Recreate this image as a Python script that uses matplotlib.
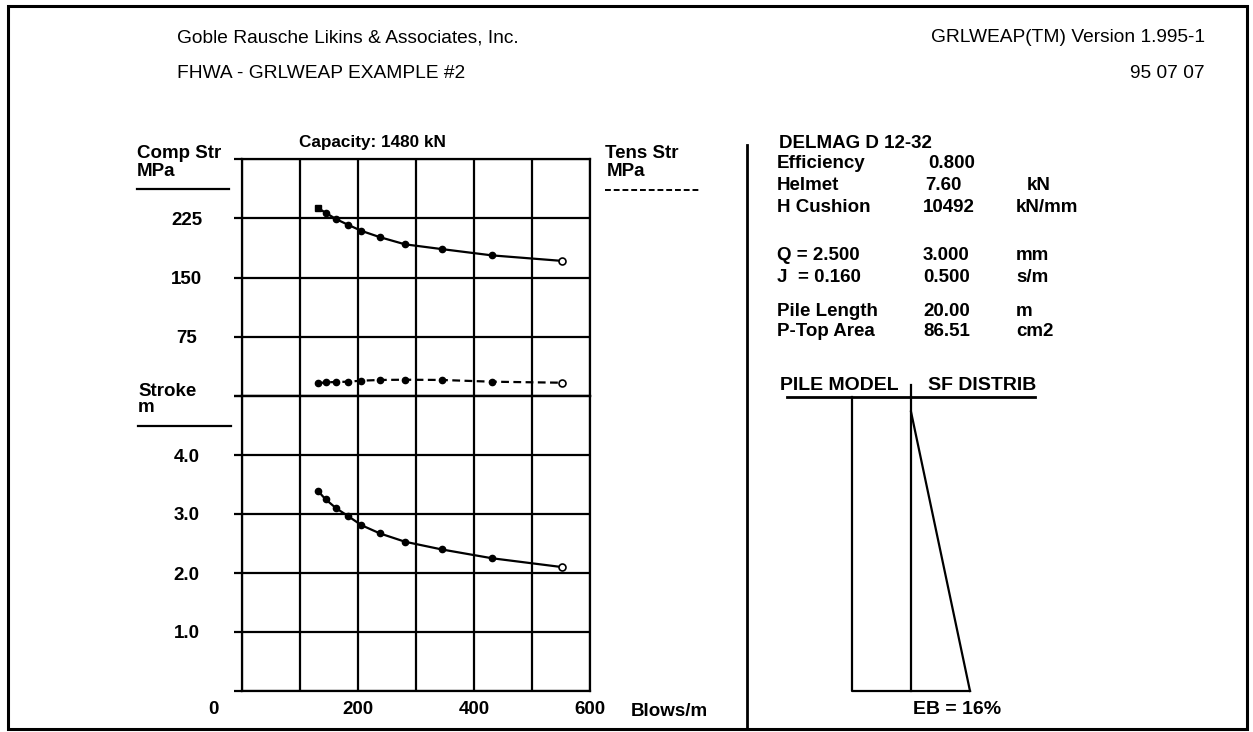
import matplotlib
matplotlib.use("Agg")
import matplotlib.pyplot as plt
from matplotlib.lines import Line2D
from matplotlib.patches import Rectangle

W, H = 1253, 732

# ---- data ----
BLOWS = [131, 144, 162, 182, 206, 238, 281, 344, 431, 552]          # blows/m
COMP_STR = [238, 232, 224, 217, 209, 201, 192, 186, 178, 171]      # MPa
TENS_STR = [16.1, 17.3, 17.7, 18.1, 19.4, 20.3, 20.6, 20.3, 18.1, 16.8]
STROKE = [3.39, 3.25, 3.10, 2.97, 2.81, 2.67, 2.53, 2.40, 2.25, 2.10]  # m

STR_TICKS = [0, 75, 150, 225, 300]
STROKE_TICKS = [0, 1, 2, 3, 4, 5]
BLOW_TICKS = [0, 100, 200, 300, 400, 500, 600]

HAMMER = "DELMAG D 12-32"
PARAM_LABELS = ["Efficiency", "Helmet", "H Cushion", "Q = 2.500", "J  = 0.160",
                "Pile Length", "P-Top Area"]
PARAM_VALUES = ["0.800", "7.60", "10492", "3.000", "0.500", "20.00", "86.51"]
PARAM_UNITS = ["", "kN", "kN/mm", "mm", "s/m", "m", "cm2"]

PILE_LENGTH = 20.0
SF_DEPTH = [1.0, PILE_LENGTH]   # shaft friction starts ~1 m below top
SF_VALUE = [0.0, 1.0]           # normalised, linear increase
EB_PCT = 16

plt.rcParams.update({
    "font.family": ["Liberation Sans", "DejaVu Sans"],
    "font.weight": "bold",
    "font.size": 13.5,
})
LW = 1.6


def fx(x):
    return x / W


def fy(y):
    return 1 - y / H


def rect(l, t, r, b):
    return [fx(l), fy(b), (r - l) / W, (b - t) / H]


def fline(xs, ys, **kw):
    kw.setdefault("color", "k")
    kw.setdefault("lw", LW)
    fig.add_artist(Line2D([fx(x) for x in xs], [fy(y) for y in ys],
                          transform=fig.transFigure, **kw))


def ftext(x, y, s, **kw):
    kw.setdefault("va", "center")
    fig.text(fx(x), fy(y), s, **kw)


fig = plt.figure(figsize=(W / 100, H / 100), dpi=100)

# outer frame + divider
fig.add_artist(Rectangle((fx(8), fy(729)), (1247 - 8) / W, (729 - 6) / H,
                         transform=fig.transFigure, fill=False, lw=2.2, ec="k"))
fline([747, 747], [145, 729], lw=2.0)

# header (printed in a lighter, narrower face)
HDR = dict(fontsize=13.8, fontweight="normal")
ftext(177, 38, "Goble Rausche Likins & Associates, Inc.", **HDR)
ftext(177, 74, "FHWA - GRLWEAP EXAMPLE #2", **HDR)
ftext(1205, 38, "GRLWEAP(TM) Version 1.995-1", ha="right", **HDR)
ftext(1205, 74, "95 07 07", ha="right", **HDR)


def grid_axes(ax, ylim, yticks, ylabels):
    ax.set_xlim(0, 600)
    ax.set_ylim(*ylim)
    ax.set_xticks(BLOW_TICKS)
    ax.set_yticks(yticks)
    ax.set_yticklabels(ylabels)
    ax.grid(True, color="k", lw=LW)
    for s in ax.spines.values():
        s.set_linewidth(LW)
    ax.tick_params(axis="x", length=0, labelbottom=False)
    ax.tick_params(axis="y", length=6, width=LW, direction="out", pad=34)
    for lbl in ax.get_yticklabels():
        lbl.set_ha("center")


# ---- stress panel ----
ax_s = fig.add_axes(rect(242, 159, 590, 396))
grid_axes(ax_s, (0, 300), STR_TICKS,
          ["" if v in (0, 300) else str(v) for v in STR_TICKS])
ax_s.plot(BLOWS, COMP_STR, color="k", lw=LW)
ax_s.plot(BLOWS[1:-1], COMP_STR[1:-1], "o", color="k", ms=4.5)
ax_s.plot(BLOWS[:1], COMP_STR[:1], "s", color="k", ms=5)
ax_s.plot(BLOWS[-1:], COMP_STR[-1:], "o", mfc="white", mec="k", mew=1.2, ms=5)
ax_s.plot(BLOWS, TENS_STR, color="k", lw=LW, ls="--", dashes=(3.5, 2))
ax_s.plot(BLOWS[:-1], TENS_STR[:-1], "o", color="k", ms=4.5)
ax_s.plot(BLOWS[-1:], TENS_STR[-1:], "o", mfc="white", mec="k", mew=1.2, ms=5)

# ---- stroke panel ----
ax_h = fig.add_axes(rect(242, 396, 590, 691))
grid_axes(ax_h, (0, 5), STROKE_TICKS,
          ["" if v in (0, 5) else f"{v:.1f}" for v in STROKE_TICKS])
ax_h.tick_params(axis="x", labelbottom=True, pad=7)
ax_h.set_xticklabels(["" if v in (0, 100, 300, 500) else str(v) for v in BLOW_TICKS])
ax_h.plot(BLOWS, STROKE, color="k", lw=LW)
ax_h.plot(BLOWS[:-1], STROKE[:-1], "o", color="k", ms=4.5)
ax_h.plot(BLOWS[-1:], STROKE[-1:], "o", mfc="white", mec="k", mew=1.2, ms=5)

ftext(213, 709, "0", ha="center")
ftext(631, 711, "Blows/m")
ftext(372, 142, "Capacity: 1480 kN", ha="center", fontsize=12.3)

# axis headings
ftext(137, 153, "Comp Str")
ftext(137, 171, "MPa")
fline([137, 229], [189, 189])
ftext(605, 154, "Tens Str")
ftext(607, 172, "MPa")
fline([605, 700], [190, 190], ls="--", dashes=(3, 1.5), lw=1.4)
ftext(138, 391, "Stroke")
ftext(138, 408, "m")
fline([138, 231], [426, 426])

# ---- hammer / pile info ----
ftext(779, 144, HAMMER)
row_y = [164, 185, 207, 255, 278, 311, 331]
val_x = [928, 925, 923, 923, 923, 923, 923]
for lab, val, unit, y, vx in zip(PARAM_LABELS, PARAM_VALUES, PARAM_UNITS, row_y, val_x):
    ftext(777, y, lab)
    ftext(vx, y, val)
    if unit:
        ftext(1027 if unit == "kN" else 1016, y, unit)

ftext(780, 385, "PILE MODEL", fontsize=14)
ftext(928, 385, "SF DISTRIB", fontsize=14)
fline([787, 1035], [397, 397], lw=2.0)
fline([911, 911], [385, 397], lw=LW)

ax_p = fig.add_axes(rect(852, 397, 970, 691))
ax_p.set_xlim(-1, 1)
ax_p.set_ylim(PILE_LENGTH, 0)
ax_p.axis("off")
ax_p.plot([-1, -1, 1], [0, PILE_LENGTH, PILE_LENGTH], color="k", lw=LW, clip_on=False)
ax_p.plot([0, 0], [0, PILE_LENGTH], color="k", lw=LW, clip_on=False)
ax_p.plot(SF_VALUE, SF_DEPTH, color="k", lw=LW, clip_on=False)
ftext(913, 710, f"EB = {EB_PCT}%", fontsize=14)

fig.savefig("out.png", dpi=100)
